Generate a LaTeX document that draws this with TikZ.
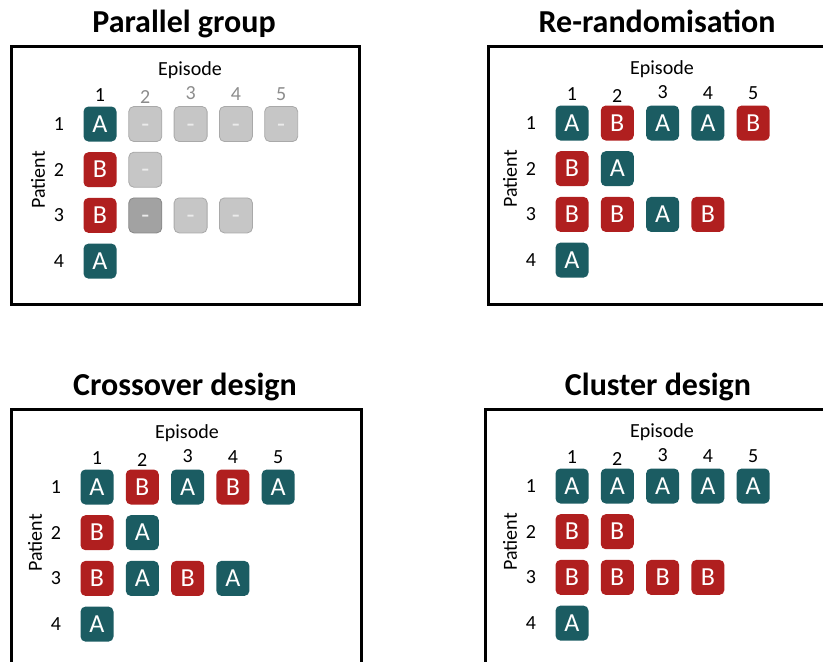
\documentclass[tikz,border=0pt]{standalone}
\usepackage{fontspec}
\setmainfont{Carlito}
\usepackage{tikz}
\definecolor{armA}{HTML}{1B5C62}
\definecolor{armB}{HTML}{B01F1F}
\definecolor{nilfill}{HTML}{C6C6C6}
\definecolor{nildraw}{HTML}{A9A9A9}
\definecolor{nildark}{HTML}{A2A2A2}
\definecolor{numgray}{HTML}{8C8C8C}

\begin{document}
\begin{tikzpicture}[
    x=1pt, y=-1pt,
    panel/.style={rectangle, draw=black, line width=3pt, anchor=north west, inner sep=0pt},
    heading/.style={font=\bfseries\fontsize{32}{38}\selectfont, anchor=base, inner sep=0pt},
    lbl/.style={font=\fontsize{20}{24}\selectfont, inner sep=0pt},
    cell/.style={rectangle, rounded corners=5pt, minimum width=33pt, minimum height=35pt, inner sep=0pt, text height=16.5pt, text depth=0pt, text=white, font=\fontsize{26}{30}\selectfont},
    cellA/.style={cell, fill=armA},
    cellB/.style={cell, fill=armB},
    cellN/.style={cell, fill=nilfill, draw=nildraw, line width=0.8pt, text=white!92!black},
    cellD/.style={cell, fill=nildark, draw=nildraw!80!black, line width=0.8pt, text=white!92!black}
]
\useasboundingbox (0,0) rectangle (823,662);
\clip (0,0) rectangle (823,662);

% Rahmen, Titel und Achsen
\foreach \p/\bx/\by/\bw/\ox/\oy/\cc/\ttl in {
    pg/10/45/348/100/124/numgray/Parallel group,
    rr/487/45/340/572/123/black/Re-randomisation,
    co/10/408/350/97/487/black/Crossover design,
    cl/484/408/348/572/486/black/Cluster design} {
  \node[panel, minimum width=\bw, minimum height=258] (\p-box) at (\bx,\by) {};
  \node[heading] (\p-title) at (\bx+\bw/2, \by-13) {\ttl};
  \coordinate (\p-o) at (\ox,\oy);
  \node[lbl] (\p-ep) at (\ox+90, \oy-54) {Episode};
  \node[lbl, rotate=90] (\p-pat) at (\ox-62, \oy+56) {Patient};
  \foreach \r in {1,...,4}
    \node[lbl] (\p-row\r) at (\ox-41, \oy+45.7*\r-45.7) {\r};
  \foreach \c/\d in {1/2, 2/4, 3/0, 4/1, 5/1} {
    \ifnum\c=1 \def\nc{black}\else\def\nc{\cc}\fi
    \node[lbl, text=\nc] (\p-col\c) at (\ox+45.3*\c-45.3, \oy-31+\d) {\c};
  }
}

% Behandlungen je Patient und Episode
\foreach \p/\r/\seq in {
    pg/1/{A/A,N/-,N/-,N/-,N/-}, pg/2/{B/B,N/-}, pg/3/{B/B,D/-,N/-,N/-}, pg/4/{A/A},
    rr/1/{A/A,B/B,A/A,A/A,B/B}, rr/2/{B/B,A/A}, rr/3/{B/B,B/B,A/A,B/B}, rr/4/{A/A},
    co/1/{A/A,B/B,A/A,B/B,A/A}, co/2/{B/B,A/A}, co/3/{B/B,A/A,B/B,A/A}, co/4/{A/A},
    cl/1/{A/A,A/A,A/A,A/A,A/A}, cl/2/{B/B,B/B}, cl/3/{B/B,B/B,B/B,B/B}, cl/4/{A/A}}
  \foreach \s/\t [count=\c] in \seq
    \node[cell\s] (\p-\r-\c) at ([shift={(45.3*\c-45.3, 45.7*\r-45.7)}]\p-o) {\t};

\end{tikzpicture}
\end{document}
